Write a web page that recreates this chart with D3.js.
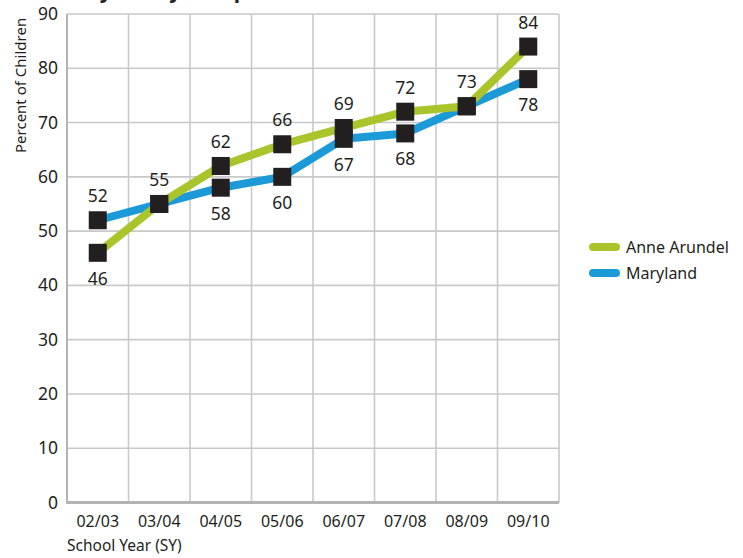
<!DOCTYPE html>
<html>
<head>
<meta charset="utf-8">
<script src="https://cdn.jsdelivr.net/npm/d3@7"></script>
<style>
  html, body { margin: 0; padding: 0; background: #fff; }
  svg { display: block; }
  text { font-family: "Noto Sans", "DejaVu Sans", sans-serif; fill: #231f20; }
</style>
</head>
<body>
<svg id="chart" width="743" height="558"></svg>
<script>
// School years on the x axis
const years = ["02/03", "03/04", "04/05", "05/06", "06/07", "07/08", "08/09", "09/10"];
// Percent of children fully ready
const anneArundel = [46, 55, 62, 66, 69, 72, 73, 84];
const maryland = [52, 55, 58, 60, 67, 68, 73, 78];
// Y axis ticks
const yTicks = [0, 10, 20, 30, 40, 50, 60, 70, 80, 90];
const seriesNames = ["Anne Arundel", "Maryland"];
const seriesColors = ["#a9c52b", "#1b9ad7"];

const svg = d3.select("#chart");
const plotL = 67, plotR = 559, plotT = 14, plotB = 502.5;

const x = d3.scaleBand().domain(years).range([plotL, plotR]);
const y = d3.scaleLinear().domain([0, 90]).range([plotB, plotT]);
const cx = d => x(d) + x.bandwidth() / 2;

// Title, sitting above the top edge so only its descenders show
svg.append("text")
  .attr("x", 62).attr("y", -2)
  .attr("font-size", 21).attr("font-weight", "bold")
  .text("Fully Ready Composite Score");

// Grid
const grid = svg.append("g").attr("stroke", "#c9c9cb").attr("stroke-width", 1.6);
grid.selectAll("line.h").data(yTicks.filter(t => t > 0)).join("line")
  .attr("x1", plotL).attr("x2", plotR)
  .attr("y1", d => y(d)).attr("y2", d => y(d));
const vEdges = years.map(d => x(d)).concat([plotR]);
grid.selectAll("line.v").data(vEdges.slice(1)).join("line")
  .attr("x1", d => d).attr("x2", d => d)
  .attr("y1", plotT).attr("y2", plotB);

// Axis lines
svg.append("line").attr("x1", plotL).attr("x2", plotL).attr("y1", plotT).attr("y2", plotB + 1.5)
  .attr("stroke", "#b4b4b6").attr("stroke-width", 2);
svg.append("line").attr("x1", plotL).attr("x2", plotR).attr("y1", plotB).attr("y2", plotB)
  .attr("stroke", "#b4b4b6").attr("stroke-width", 3);

// Y tick labels
svg.append("g").selectAll("text").data(yTicks).join("text")
  .attr("x", 58).attr("y", d => y(d) + 6)
  .attr("text-anchor", "end").attr("font-size", 17.5)
  .text(d => d);

// X tick labels
svg.append("g").selectAll("text").data(years).join("text")
  .attr("x", d => cx(d)).attr("y", 527)
  .attr("text-anchor", "middle").attr("font-size", 16)
  .text(d => d);

// Axis titles
svg.append("text").attr("x", 67).attr("y", 551).attr("font-size", 15.5)
  .text("School Year (SY)");
svg.append("text")
  .attr("transform", "translate(26,153) rotate(-90)")
  .attr("font-size", 15)
  .text("Percent of Children");

// Lines
const line = d3.line().x((d, i) => cx(years[i])).y(d => y(d));
[maryland, anneArundel].forEach((vals, k) => {
  svg.append("path").datum(vals)
    .attr("d", line)
    .attr("fill", "none")
    .attr("stroke", k === 0 ? seriesColors[1] : seriesColors[0])
    .attr("stroke-width", 8)
    .attr("stroke-linejoin", "round");
});

// Markers
const sq = 18;
const pts = [];
years.forEach((yr, i) => {
  pts.push({ yr, v: anneArundel[i] });
  pts.push({ yr, v: maryland[i] });
});
svg.append("g").selectAll("rect").data(pts).join("rect")
  .attr("x", d => cx(d.yr) - sq / 2).attr("y", d => y(d.v) - sq / 2)
  .attr("width", sq).attr("height", sq)
  .attr("fill", "#231f20");

// Value labels: higher value above, lower value below
const labels = [];
years.forEach((yr, i) => {
  const a = anneArundel[i], m = maryland[i];
  const hi = Math.max(a, m), lo = Math.min(a, m);
  labels.push({ yr, v: hi, pos: "above" });
  if (lo !== hi) labels.push({ yr, v: lo, pos: "below" });
});
svg.append("g").selectAll("text").data(labels).join("text")
  .attr("x", d => cx(d.yr))
  .attr("y", d => d.pos === "above" ? y(d.v) - 18 : y(d.v) + 32)
  .attr("text-anchor", "middle").attr("font-size", 17.5)
  .text(d => d.v);

// Legend
const legend = svg.append("g");
seriesNames.forEach((name, i) => {
  const ly = 247 + i * 26;
  legend.append("line")
    .attr("x1", 593).attr("x2", 616).attr("y1", ly).attr("y2", ly)
    .attr("stroke", seriesColors[i]).attr("stroke-width", 8)
    .attr("stroke-linecap", "round");
  legend.append("text").attr("x", 626).attr("y", ly + 6)
    .attr("font-size", 16).text(name);
});
</script>
</body>
</html>
